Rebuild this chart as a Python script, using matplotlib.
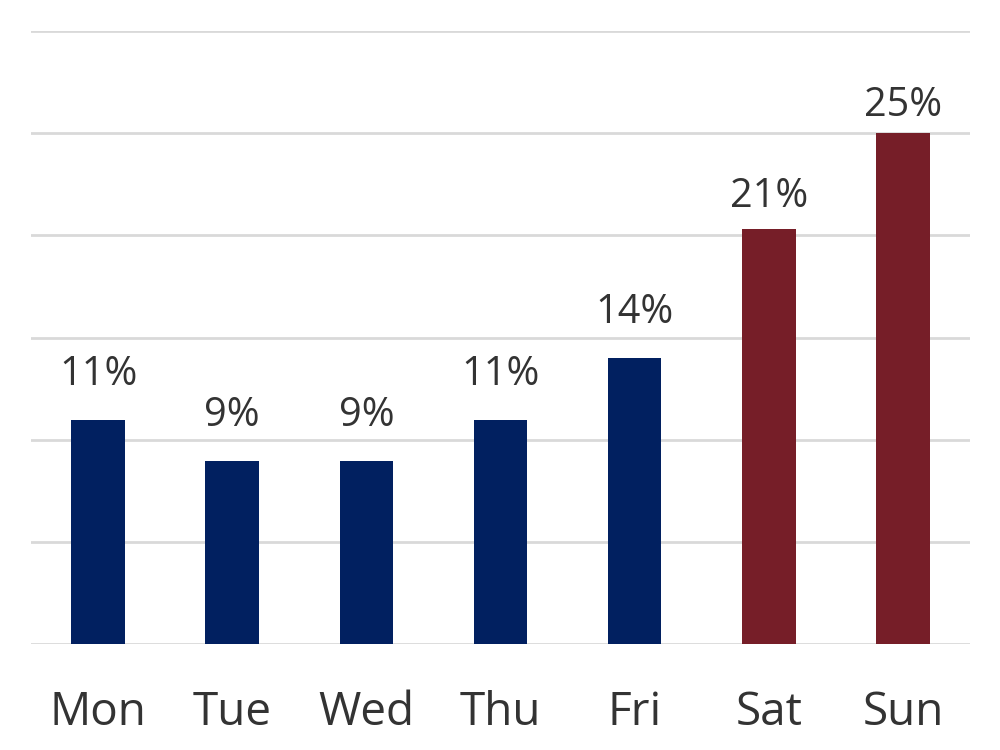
import matplotlib
matplotlib.use("Agg")
import matplotlib.pyplot as plt

days = ["Mon", "Tue", "Wed", "Thu", "Fri", "Sat", "Sun"]
values = [10.96, 8.95, 8.95, 10.96, 13.99, 20.3, 25.0]
labels = ["11%", "9%", "9%", "11%", "14%", "21%", "25%"]
colors = ["#012060", "#012060", "#012060", "#012060", "#012060", "#761E28", "#761E28"]
label_gap_px = [25, 25, 25, 25, 25, 12, 7]

plt.rcParams['font.family'] = ['Open Sans', 'DejaVu Sans']

fig = plt.figure(figsize=(10, 7.5), dpi=100)
ax = fig.add_axes([0.031, 0.1413, 0.939, 0.8174])

x = range(len(days))
bars = ax.bar(x, values, width=0.40, color=colors, zorder=3)
for b, lab, gap in zip(bars, labels, label_gap_px):
    ax.annotate(lab, (b.get_x() + b.get_width() / 2, b.get_height()),
                xytext=(0, gap), textcoords="offset pixels",
                ha="center", va="bottom", fontsize=28.5, color="#333333")

ax.set_xlim(-0.5, 6.5)
ax.set_ylim(0, 30)
ax.set_yticks([0, 5, 10, 15, 20, 25, 30])
ax.yaxis.grid(True, color="#d9d9d9", linewidth=2, zorder=0)
ax.tick_params(axis='y', left=False, labelleft=False)
ax.tick_params(axis='x', length=0, pad=33, labelsize=33, labelcolor="#333333")
ax.set_xticks(list(x))
ax.set_xticklabels(days)
for s in ax.spines.values():
    s.set_visible(False)

fig.savefig("out.png", dpi=100)
